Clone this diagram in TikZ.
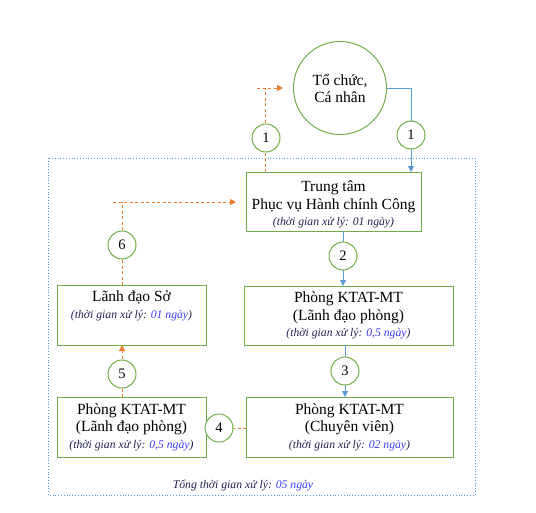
\documentclass[tikz,border=0pt]{standalone}
\usepackage{fontspec}
\setmainfont{Liberation Serif}
\usetikzlibrary{arrows.meta}
\definecolor{gr}{HTML}{70AD47}
\definecolor{bl}{HTML}{5B9BD5}
\definecolor{og}{HTML}{ED7D31}
\definecolor{nv}{HTML}{1F1F4F}
\definecolor{numc}{HTML}{3B3BF5}
\newcommand{\tgian}[1]{{\fontsize{11.7}{13}\selectfont\itshape\color{nv}(thời gian xử lý: \textcolor{numc}{#1})}}
\newcommand{\tgdark}[1]{{\fontsize{11.7}{13}\selectfont\itshape\color{nv}(thời gian xử lý: #1)}}
\begin{document}
\begin{tikzpicture}[x=1pt,y=-1pt,
 box/.style={draw=gr,line width=1pt,align=center,inner sep=0pt,font=\fontsize{15.5}{17.5}\selectfont},
 numc/.style={circle,draw=gr,line width=1pt,fill=white,minimum size=28pt,inner sep=0pt,font=\fontsize{14.5}{17}\selectfont},
 bline/.style={draw=bl,line width=1pt},
 barrow/.style={bline,-{Triangle[width=6pt,length=6pt]}},
 oline/.style={draw=og,line width=1pt,dash pattern=on 3pt off 2.5pt},
 oarrow/.style={oline,-{Triangle[width=6pt,length=6pt]}},
 txt/.style={align=center,inner sep=0pt,font=\fontsize{15.5}{17.5}\selectfont}
]
\useasboundingbox (0,0) rectangle (536,512);
% outer dotted frame
\draw[bl,line width=0.8pt,dotted] (48,158) rectangle (475,495);

% nodes
\node[circle,draw=gr,line width=1pt,minimum size=93pt,inner sep=0pt,align=center,font=\fontsize{15.5}{17}\selectfont] (org) at (340,88) {Tổ chức,\\Cá nhân};
\node[box,minimum width=175pt,minimum height=59pt] (tt) at (333.5,201.5) {};
\node[txt] (ttT) at (333.5,204.5) {Trung tâm\\Phục vụ Hành chính Công\\[-1pt]\tgdark{01 ngày}};
\node[box,minimum width=209pt,minimum height=59pt] (ldp) at (348.5,315.5) {Phòng KTAT-MT\\(Lãnh đạo phòng)\\[-1pt]\tgian{0,5 ngày}};
\node[box,minimum width=207pt,minimum height=60pt] (cv) at (349.5,427) {Phòng KTAT-MT\\(Chuyên viên)\\[-1pt]\tgian{02 ngày}};
\node[box,minimum width=149pt,minimum height=60pt] (lds) at (131.5,315) {};
\node[txt] (ldsT) at (131.5,306) {Lãnh đạo Sở\\[-1pt]\tgian{01 ngày}};
\node[box,minimum width=149pt,minimum height=60pt] (ldp2) at (131.5,427) {Phòng KTAT-MT\\(Lãnh đạo phòng)\\[-1pt]\tgian{0,5 ngày}};

% coordinates
\coordinate (b1) at (411,88);
\coordinate (b1e) at (411,172);
\coordinate (o1s) at (265,172);
\coordinate (o1c) at (265,88);
\coordinate (o1l) at (257,88);
\coordinate (o1e) at (283,88);
\coordinate (o6s) at (122,285);
\coordinate (o6c) at (122,202);
\coordinate (o6l) at (113,202);
\coordinate (o6e) at (236,202);
\coordinate (b2s) at (343,231);
\coordinate (b2e) at (343,286);
\coordinate (b3s) at (345,345);
\coordinate (b3e) at (345,397);
\coordinate (o4s) at (246,428);
\coordinate (o4e) at (206,428);
\coordinate (o5s) at (122,397);
\coordinate (o5e) at (122,345);

% connectors
\draw[bline] (org.east) -- (b1);
\draw[barrow] (b1) -- (b1e);
\draw[oline] (o1s) -- (o1c);
\draw[oarrow] (o1l) -- (o1e);
\draw[oline] (o6s) -- (o6c);
\draw[oarrow] (o6l) -- (o6e);
\draw[barrow] (b2s) -- (b2e);
\draw[barrow] (b3s) -- (b3e);
\draw[oline] (o4s) -- (o4e);
\draw[oarrow] (o5s) -- (o5e);

% number circles
\node[numc] (n1a) at (266,138) {1};
\node[numc] (n1b) at (411,135) {1};
\node[numc] (n2) at (343,256) {2};
\node[numc] (n3) at (345,371) {3};
\node[numc] (n4) at (219,428) {4};
\node[numc] (n5) at (122,374) {5};
\node[numc] (n6) at (122,245) {6};

% total
\node[inner sep=0pt,font=\fontsize{11.7}{13}\selectfont\itshape] (tot) at (243,486) {\color{nv}Tổng thời gian xử lý: \textcolor{numc}{05 ngày}};
\end{tikzpicture}
\end{document}
